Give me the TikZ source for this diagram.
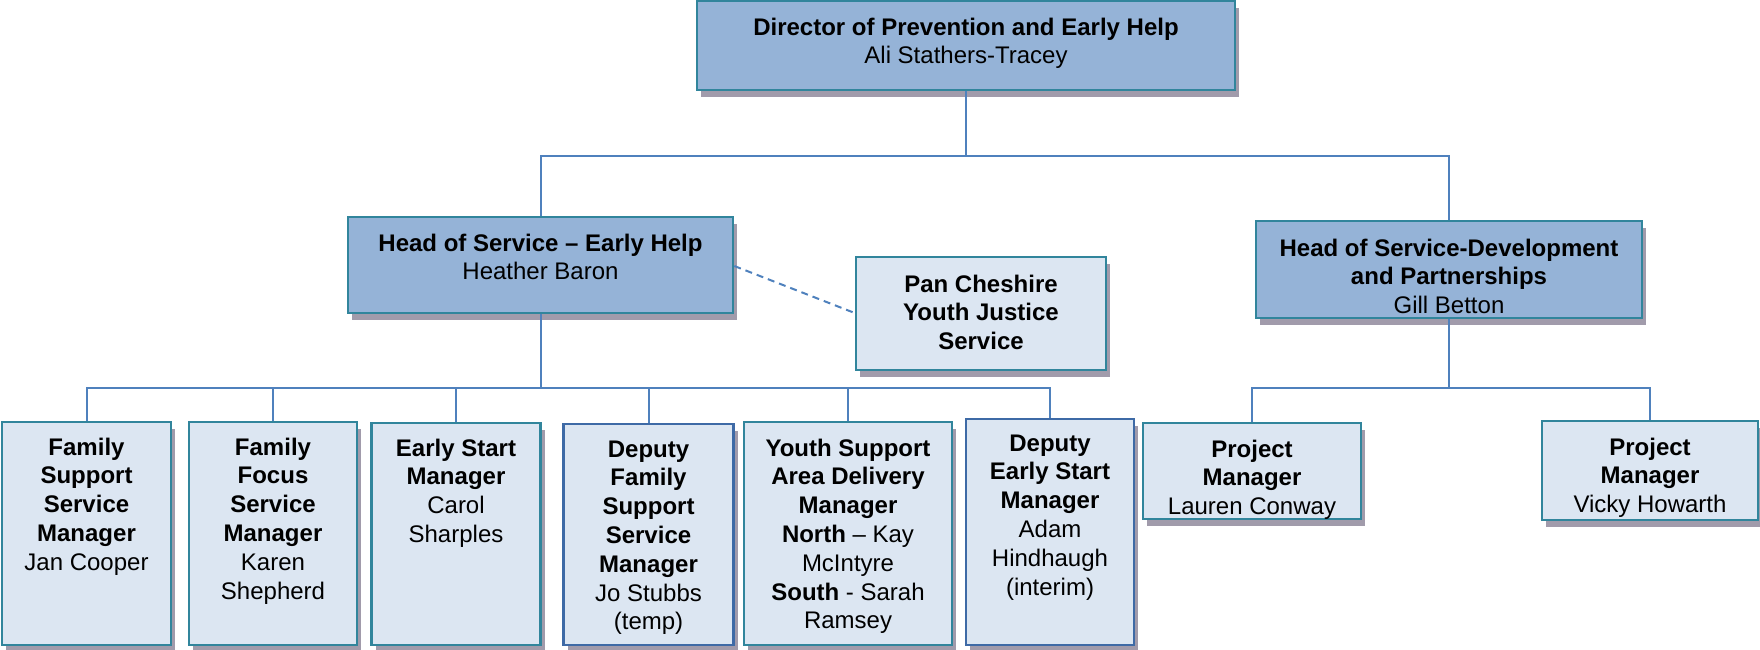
\documentclass[tikz,border=0pt]{standalone}
\usepackage{fontspec}
\setmainfont{Liberation Sans}
\usetikzlibrary{shadows}
\definecolor{linec}{HTML}{4F81BD}
\definecolor{tealb}{HTML}{31859C}
\definecolor{blueb}{HTML}{3E6AA6}
\definecolor{darkfill}{HTML}{95B3D7}
\definecolor{lightfill}{HTML}{DCE6F2}
\definecolor{shadowc}{HTML}{A19BAB}
\begin{document}
\begin{tikzpicture}[x=1pt,y=1pt,
  box/.style={draw=tealb, line width=2.6pt, inner sep=0pt,
    drop shadow={shadow xshift=4pt, shadow yshift=-7pt, fill=shadowc, opacity=1}},
  darkbox/.style={box, fill=darkfill},
  lightbox/.style={box, fill=lightfill},
  bluebox/.style={lightbox, draw=blueb},
  txt/.style={anchor=north, inner sep=0pt, align=center, font=\fontsize{24}{28.8}\selectfont},
  conn/.style={draw=linec, line width=2pt},
  dashconn/.style={draw=linec, line width=2pt, dash pattern=on 7pt off 5pt},
]
\useasboundingbox (0,0) rectangle (1760,-649);

% boxes
\node[darkbox, minimum width=538pt, minimum height=89pt] (dir) at (966,-45.5) {};
\node[darkbox, minimum width=385pt, minimum height=96pt] (heh) at (540.5,-265) {};
\node[lightbox, minimum width=250pt, minimum height=113pt] (pan) at (981,-313.5) {};
\node[darkbox, minimum width=386pt, minimum height=97pt] (hdev) at (1449,-269.5) {};
\node[lightbox, minimum width=169pt, minimum height=223pt] (b1) at (86.5,-533.5) {};
\node[lightbox, minimum width=168pt, minimum height=223pt] (b2) at (273,-533.5) {};
\node[lightbox, minimum width=169pt, minimum height=222pt] (b3) at (456,-534) {};
\node[bluebox, minimum width=170pt, minimum height=221pt] (b4) at (648.5,-534.5) {};
\node[lightbox, minimum width=208pt, minimum height=223pt] (b5) at (848,-533.5) {};
\node[bluebox, minimum width=168pt, minimum height=226pt] (b6) at (1050,-532) {};
\node[lightbox, minimum width=218pt, minimum height=96pt] (p1) at (1252,-471) {};
\node[lightbox, minimum width=216pt, minimum height=99pt] (p2) at (1650,-470.5) {};

% texts
\node[txt] (dirT) at (966,-17.5) {\textbf{Director of Prevention and Early Help}\\Ali Stathers-Tracey};
\node[txt] (hehT) at (540.5,-233.4) {\textbf{Head of Service – Early Help}\\Heather Baron};
\node[txt] (panT) at (981,-274.4) {\textbf{Pan Cheshire}\\\textbf{Youth Justice}\\\textbf{Service}};
\node[txt] (hdevT) at (1449,-238.4) {\textbf{Head of Service-Development}\\\textbf{and Partnerships}\\Gill Betton};
\node[txt] (b1T) at (86.5,-437.4) {\textbf{Family}\\\textbf{Support}\\\textbf{Service}\\\textbf{Manager}\\Jan Cooper};
\node[txt] (b2T) at (273,-437.4) {\textbf{Family}\\\textbf{Focus}\\\textbf{Service}\\\textbf{Manager}\\Karen\\Shepherd};
\node[txt] (b3T) at (456,-438.4) {\textbf{Early Start}\\\textbf{Manager}\\Carol\\Sharples};
\node[txt] (b4T) at (648.5,-440.4) {\textbf{Deputy}\\\textbf{Family}\\\textbf{Support}\\\textbf{Service}\\\textbf{Manager}\\Jo Stubbs\\(temp)};
\node[txt] (b5T) at (848,-438.4) {\textbf{Youth Support}\\\textbf{Area Delivery}\\\textbf{Manager}\\\textbf{North} – Kay\\McIntyre\\\textbf{South} - Sarah\\Ramsey};
\node[txt] (b6T) at (1050,-434.4) {\textbf{Deputy}\\\textbf{Early Start}\\\textbf{Manager}\\Adam\\Hindhaugh\\(interim)};
\node[txt] (p1T) at (1252,-439.4) {\textbf{Project}\\\textbf{Manager}\\Lauren Conway};
\node[txt] (p2T) at (1650,-437.4) {\textbf{Project}\\\textbf{Manager}\\Vicky Howarth};

% bus levels
\coordinate (tb) at (0,-156);
\coordinate (lb) at (0,-387.5);

% connectors
\draw[conn] (dir.south) -- (dir.south |- tb);
\draw[conn] (heh.north) |- (dir.south |- tb) -| (hdev.north);
\draw[conn] (heh.south) -- (heh.south |- lb);
\draw[conn] (b1.north) |- (b6.north |- lb) -- (b6.north);
\draw[conn] (b2.north) -- (b2.north |- lb);
\draw[conn] (b3.north) -- (b3.north |- lb);
\draw[conn] (b4.north) -- (b4.north |- lb);
\draw[conn] (b5.north) -- (b5.north |- lb);
\draw[conn] (hdev.south) -- (hdev.south |- lb);
\draw[conn] (p1.north) |- (p2.north |- lb) -- (p2.north);
\draw[dashconn] (heh.east |- 0,-266) -- (pan.west |- 0,-313);
\end{tikzpicture}
\end{document}
